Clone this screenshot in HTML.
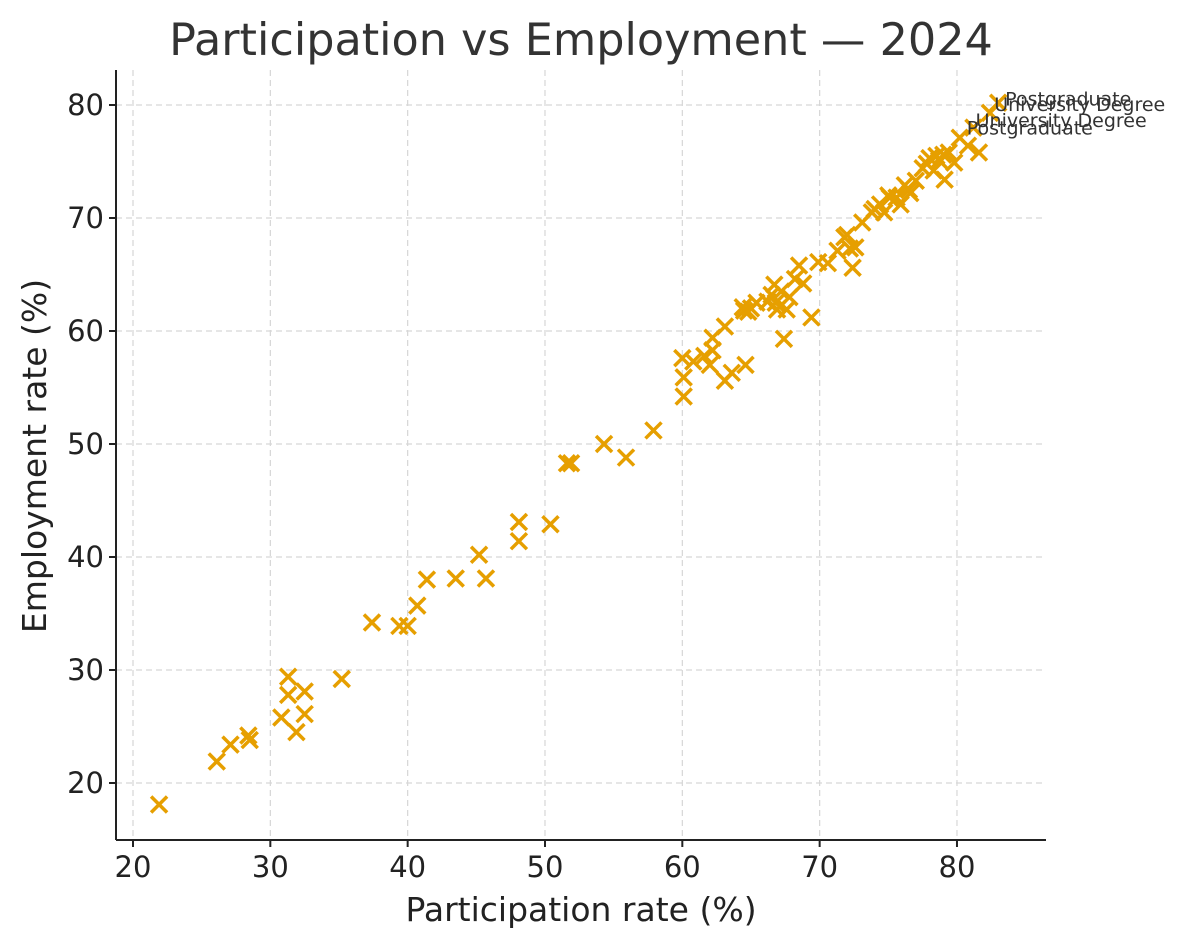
<!DOCTYPE html>
<html><head><meta charset="utf-8"><style>
body{margin:0;background:#fff;}
svg{display:block;font-family:"DejaVu Sans","Liberation Sans",sans-serif;}
</style></head><body>
<svg id="chart" width="1188" height="947" viewBox="0 0 1188 947">
<text x="581" y="55" text-anchor="middle" font-size="44.5" fill="#333">Participation vs Employment — 2024</text>
<g id="grid"></g>
<g id="marks"></g>
<g id="axes"></g>
<text x="581" y="921" text-anchor="middle" font-size="33" fill="#222">Participation rate (%)</text>
<text transform="translate(46,456) rotate(-90)" text-anchor="middle" font-size="33" fill="#222">Employment rate (%)</text>
</svg>
<script>
const xTicks=[20,30,40,50,60,70,80];
const yTicks=[20,30,40,50,60,70,80];
const participation=[21.9,26.1,27.1,28.4,28.5,30.8,31.3,31.3,31.9,32.5,32.5,35.2,37.4,39.4,40.0,40.7,41.4,43.5,45.2,45.7,48.1,48.1,50.4,51.6,51.9,54.3,55.9,57.9,60.0,60.1,60.1,60.8,61.6,62.0,62.2,62.2,63.1,63.1,63.6,64.6,64.4,64.8,65.4,66.2,66.5,66.7,66.9,67.2,67.4,67.6,67.8,68.2,68.5,68.8,69.4,69.9,70.6,71.3,71.8,72.2,72.4,72.6,73.1,73.8,74.4,74.7,75.1,75.6,75.9,76.2,76.6,77.0,77.5,78.0,78.3,78.7,79.1,79.4,79.8,80.2,80.8,81.2,81.6,82.4,83.0,75.0,76.5,77.8,78.5,79.0,74.0,72.0,65.0,66.8,64.5];
const employment=[18.1,21.9,23.4,24.2,23.8,25.8,29.4,27.8,24.5,28.1,26.1,29.2,34.2,33.9,33.9,35.7,38.0,38.1,40.2,38.1,43.1,41.4,42.9,48.3,48.3,50.0,48.8,51.2,57.6,55.9,54.2,57.3,57.8,57.0,58.3,59.4,55.6,60.4,56.3,57.0,62.1,61.7,62.5,62.6,63.2,64.1,61.9,63.5,59.3,61.9,63.0,64.6,65.8,64.2,61.2,66.1,66.0,67.1,68.3,67.3,65.6,67.4,69.6,70.5,71.2,70.5,71.8,71.8,71.2,72.9,72.2,73.3,74.4,75.3,74.2,75.1,73.4,75.8,74.9,77.1,76.4,78.0,75.8,79.3,80.2,72.0,72.5,74.8,75.5,75.6,70.8,68.5,62.0,62.5,61.8];
const labelText=["Postgraduate","University Degree","University Degree","Postgraduate"];
const labelX=[83.0,82.2,80.85,80.2];
const labelY=[80.4,79.9,78.5,77.85];
const L=116,R=1046,T=70,B=840;
const sx=v=>133+(v-20)*13.733;
const sy=v=>783-(v-20)*11.3;
const NS="http://www.w3.org/2000/svg";
function mk(t,a,p){const e=document.createElementNS(NS,t);for(const k in a)e.setAttribute(k,a[k]);p.appendChild(e);return e;}
const grid=document.getElementById('grid'),marks=document.getElementById('marks'),axes=document.getElementById('axes');
xTicks.forEach(v=>{
 const g=mk('line',{x1:sx(v),x2:sx(v),y1:T,y2:B,stroke:'#d6d6d6','stroke-width':1.2,'stroke-dasharray':'6,4'},grid);
 
 
 mk('line',{x1:sx(v),x2:sx(v),y1:B,y2:B+7,stroke:'#222','stroke-width':2},axes);
 const t=mk('text',{x:sx(v),y:B+37,'text-anchor':'middle','font-size':29,fill:'#222'},axes);t.textContent=v;
 
 
});
yTicks.forEach(v=>{
 const g=mk('line',{x1:L,x2:R,y1:sy(v),y2:sy(v),stroke:'#d6d6d6','stroke-width':1.2,'stroke-dasharray':'6,4'},grid);
 
 
 mk('line',{x1:L-7,x2:L,y1:sy(v),y2:sy(v),stroke:'#222','stroke-width':2},axes);
 const t=mk('text',{x:L-12,y:sy(v)+10,'text-anchor':'end','font-size':29,fill:'#222'},axes);t.textContent=v;
 
 
});
const xa=mk('line',{x1:L,x2:R,y1:B,y2:B,stroke:'#222','stroke-width':2},axes);


const ya=mk('line',{x1:L,x2:L,y1:T,y2:B,stroke:'#222','stroke-width':2},axes);


const s=8;
participation.forEach((p,i)=>{
 const cx=sx(p),cy=sy(employment[i]);
 const m=mk('path',{d:`M${cx-s},${cy-s}L${cx+s},${cy+s}M${cx-s},${cy+s}L${cx+s},${cy-s}`,stroke:'#E69F00','stroke-width':3.5,fill:'none'},marks);
 
 
});
labelText.forEach((txt,i)=>{
 const t=mk('text',{x:sx(labelX[i])+7,y:sy(labelY[i])+5,'font-size':19,fill:'#333'},marks);
 t.textContent=txt;
 
 
});
</script>
</body></html>
